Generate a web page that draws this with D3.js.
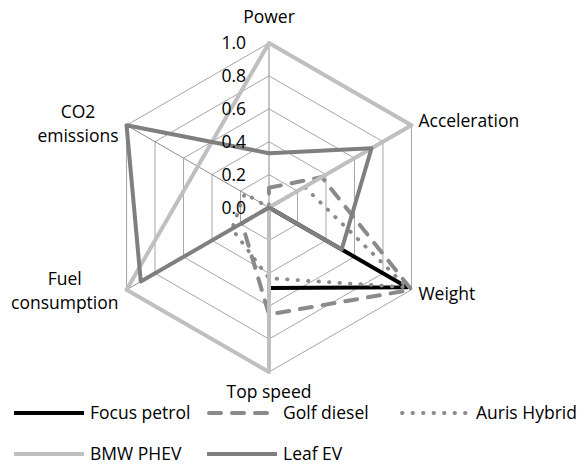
<!DOCTYPE html>
<html>
<head>
<meta charset="utf-8">
<script src="https://cdn.jsdelivr.net/npm/d3@7"></script>
<style>
  html, body { margin: 0; padding: 0; background: #fff; }
  svg { display: block; font-family: "Open Sans", sans-serif; }
</style>
</head>
<body>
<svg id="chart" width="581" height="466"></svg>
<script>
// axes, clockwise from the top
const categories = ["Power", "Acceleration", "Weight", "Top speed", "Fuel consumption", "CO2 emissions"];
const tickValues = [0, 0.2, 0.4, 0.6, 0.8, 1.0];

const seriesNames = ["Focus petrol", "Golf diesel", "Auris Hybrid", "BMW PHEV", "Leaf EV"];
const focusPetrol = [0, 0, 0.97, 0.49, 0, 0];
const golfDiesel = [0.12, 0.37, 1.0, 0.65, 0.19, 0];
const aurisHybrid = [0, 0.25, 0.97, 0.43, 0.26, 0.17];
const bmwPhev = [1, 1, 0, 1, 1, 0.5];
const leafEv = [0.33, 0.72, 0.51, 0, 0.9, 1.0];

const seriesValues = [focusPetrol, golfDiesel, aurisHybrid, bmwPhev, leafEv];

// look of each series, same order as seriesNames
const seriesStyles = [
	{color: "#000000", width: 4, dash: null, cap: "butt"},
	{color: "#8a8a8a", width: 4, dash: "12 11", cap: "round"},
	{color: "#8a8a8a", width: 3.8, dash: "0.5 10", cap: "round"},
	{color: "#bfbfbf", width: 4, dash: null, cap: "butt"},
	{color: "#7f7f7f", width: 4, dash: null, cap: "butt"}
];

const svg = d3.select("#chart");
const cx = 269, cy = 207.5, radius = 164.5;
const fontSize = 17.5;

const r = d3.scaleLinear().domain([0, 1]).range([0, radius]);
const angle = d3.scaleLinear().domain([0, categories.length]).range([0, 2 * Math.PI]);

function point(i, v) {
	const a = angle(i);
	return [Math.sin(a) * r(v), -Math.cos(a) * r(v)];
}

const plot = svg.append("g").attr("transform", `translate(${cx},${cy})`);

const radarLine = d3.lineRadial()
	.angle((d, i) => angle(i))
	.radius(d => r(d))
	.curve(d3.curveLinearClosed);

// rings
plot.append("g").attr("class", "rings")
	.selectAll("path")
	.data(tickValues.filter(t => t > 0))
	.join("path")
	.attr("d", t => radarLine(categories.map(() => t)))
	.attr("fill", "none")
	.attr("stroke", "#a6a6a6")
	.attr("stroke-width", 1);

// spokes
plot.append("g").attr("class", "spokes")
	.selectAll("line")
	.data(categories)
	.join("line")
	.attr("x1", 0).attr("y1", 0)
	.attr("x2", (d, i) => point(i, 1)[0])
	.attr("y2", (d, i) => point(i, 1)[1])
	.attr("stroke", "#8c8c8c")
	.attr("stroke-width", 1);

// series
plot.append("g").attr("class", "series")
	.selectAll("path")
	.data(seriesValues)
	.join("path")
	.attr("d", d => radarLine(d))
	.attr("fill", "none")
	.attr("stroke", (d, i) => seriesStyles[i].color)
	.attr("stroke-width", (d, i) => seriesStyles[i].width)
	.attr("stroke-dasharray", (d, i) => seriesStyles[i].dash)
	.attr("stroke-linecap", (d, i) => seriesStyles[i].cap)
	.attr("stroke-linejoin", "round");

// tick labels along the top axis
plot.append("g").attr("class", "ticks")
	.selectAll("text")
	.data(tickValues)
	.join("text")
	.attr("x", -23)
	.attr("y", t => -r(t))
	.attr("dy", "0.35em")
	.attr("text-anchor", "end")
	.attr("font-size", fontSize)
	.attr("fill", "#000")
	.text(t => d3.format(".1f")(t));

// axis labels, wrapped on spaces when they get wide
const measure = svg.append("text").attr("font-size", fontSize).attr("visibility", "hidden");
function textWidth(s) {
	measure.text(s);
	return measure.node().getComputedTextLength();
}
function wrap(label) {
	if (textWidth(label) <= 100) return [label];
	return label.split(" ");
}

const lineHeight = 24;
const labels = plot.append("g").attr("class", "axis-labels");
categories.forEach((label, i) => {
	const lines = wrap(label);
	const [vx, vy] = point(i, 1);
	const a = angle(i);
	const sx = Math.sin(a), sy = -Math.cos(a);
	const blockW = d3.max(lines, textWidth);
	const blockH = lines.length * lineHeight;
	let x, yTop, anchor = "middle";
	if (Math.abs(sx) < 0.1) {
		x = vx;
		yTop = sy < 0 ? vy - 14 - blockH : vy + 8;
	} else if (sx > 0) {
		x = vx + 7 + blockW / 2;
		yTop = vy + sy * 9 - blockH / 2;
		if (lines.length === 1) { x = vx + 7; anchor = "start"; }
	} else {
		x = vx - 8 - blockW / 2;
		yTop = vy + sy * 3 - blockH / 2;
	}
	const t = labels.append("text")
		.attr("font-size", fontSize)
		.attr("fill", "#000")
		.attr("text-anchor", anchor);
	lines.forEach((ln, j) => {
		t.append("tspan")
			.attr("x", x)
			.attr("y", yTop + j * lineHeight + lineHeight / 2)
			.attr("dy", "0.35em")
			.text(ln);
	});
});
measure.remove();

// legend
const legendRows = [[0, 1, 2], [3, 4]];
const legendY = [413, 454];
const colWidth = 193, legendX0 = 14, swatchLen = 70;

const legend = svg.append("g").attr("class", "legend");
legendRows.forEach((row, ri) => {
	row.forEach((si, ci) => {
		const st = seriesStyles[si];
		const gx = legendX0 + ci * colWidth;
		const g = legend.append("g").attr("transform", `translate(${gx},${legendY[ri]})`);
		g.append("line")
			.attr("x1", st.cap === "round" ? 2 : 0)
			.attr("x2", swatchLen)
			.attr("y1", 0).attr("y2", 0)
			.attr("stroke", st.color)
			.attr("stroke-width", st.width)
			.attr("stroke-dasharray", st.dash)
			.attr("stroke-linecap", st.cap);
		g.append("text")
			.attr("x", swatchLen + 6)
			.attr("y", 0)
			.attr("dy", "0.35em")
			.attr("font-size", fontSize)
			.attr("fill", "#000")
			.text(seriesNames[si]);
	});
});
</script>
</body>
</html>
